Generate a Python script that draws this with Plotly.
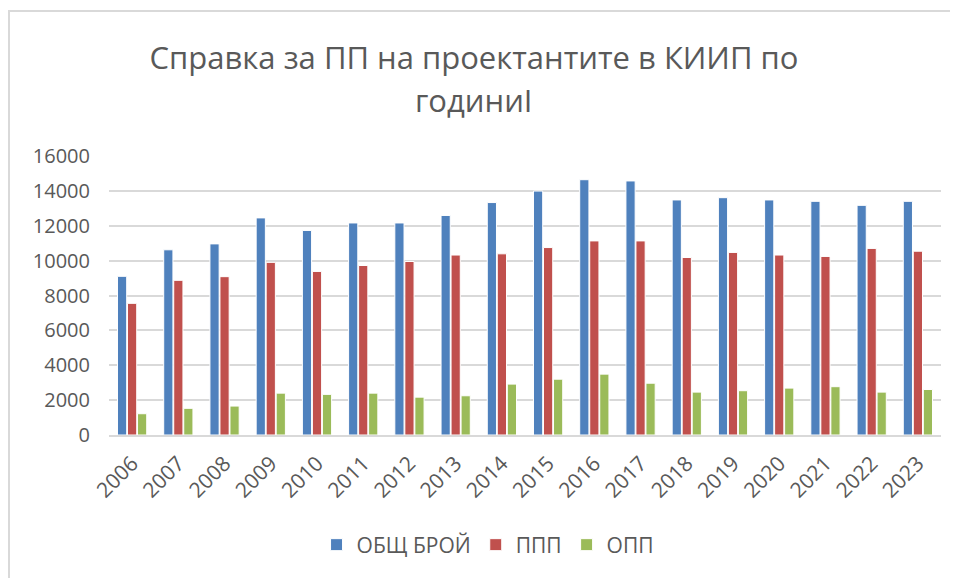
import plotly.graph_objects as go

years = ["2006", "2007", "2008", "2009", "2010", "2011", "2012", "2013", "2014",
         "2015", "2016", "2017", "2018", "2019", "2020", "2021", "2022", "2023"]
obsht_broy = [9100, 10620, 10960, 12450, 11730, 12160, 12160, 12590, 13330,
              13990, 14640, 14570, 13480, 13610, 13480, 13400, 13170, 13400]
ppp = [7550, 8870, 9080, 9900, 9380, 9720, 9950, 10320, 10390,
       10750, 11130, 11130, 10180, 10470, 10320, 10240, 10700, 10540]
opp = [1220, 1530, 1660, 2400, 2330, 2400, 2170, 2250, 2920,
       3200, 3490, 2970, 2460, 2540, 2690, 2770, 2460, 2610]

series_names = ["ОБЩ БРОЙ", "ППП", "ОПП"]
colors = ["#4F81BD", "#C0504D", "#9BBB59"]
y_ticks = [0, 2000, 4000, 6000, 8000, 10000, 12000, 14000, 16000]
y_tick_labels = [str(v) for v in y_ticks]
title_line1 = "Справка за ПП на проектантите в КИИП по"
title_line2 = "годиниI"

fig = go.Figure()
for name, vals, col in zip(series_names, [obsht_broy, ppp, opp], colors):
    fig.add_trace(go.Bar(x=years, y=vals, name=name,
                         marker=dict(color=col, line=dict(color="white", width=1))))

font_fam = "Open Sans, Roboto, sans-serif"
gray = "#595959"

W, H = 950, 570
L, R, T, B = 101, 17, 148, 143
PW, PH = W - L - R, H - T - B

fig.update_layout(
    width=W, height=H,
    margin=dict(l=L, r=R, t=T, b=B, autoexpand=False),
    paper_bgcolor="white", plot_bgcolor="white",
    barmode="group", bargap=0.35, bargroupgap=0.08,
    title=dict(text=title_line1,
               x=466 / W, xanchor="center", y=1 - 50 / H, yanchor="middle",
               font=dict(family=font_fam, size=31, color=gray)),
    annotations=[dict(text=title_line2, xref="paper", yref="paper",
                      x=(466 - L) / PW, y=1 + (T - 92) / PH,
                      xanchor="center", yanchor="middle", showarrow=False,
                      font=dict(family=font_fam, size=31, color=gray))],
    font=dict(family=font_fam, color=gray),
    showlegend=True,
    legend=dict(orientation="h", x=0.455, xanchor="center", y=(PH + T - 537 - PH) / PH if False else (427 - 537) / PH,
                yanchor="middle", font=dict(size=21, color=gray), itemwidth=30,
                traceorder="normal"),
    xaxis=dict(type="category", tickangle=-45, tickfont=dict(size=21, color=gray),
               showline=True, linecolor="#d9d9d9", linewidth=2, ticks="",
               showgrid=False, automargin=False, ticklabelstandoff=6),
    yaxis=dict(range=[0, 16000], tickvals=y_ticks, ticktext=y_tick_labels,
               tickfont=dict(size=20, color=gray),
               showgrid=True, gridcolor="#d9d9d9", gridwidth=2,
               zeroline=False, showline=False, ticklabelstandoff=18, automargin=False),
    shapes=[dict(type="rect", xref="paper", yref="paper",
                 x0=(1 - L) / PW, x1=(W + 10 - L) / PW,
                 y0=(T + PH - (H + 10)) / PH, y1=1 + (T - 3) / PH,
                 line=dict(color="#d9d9d9", width=2), layer="below")],
)

fig.write_html("out.html")
